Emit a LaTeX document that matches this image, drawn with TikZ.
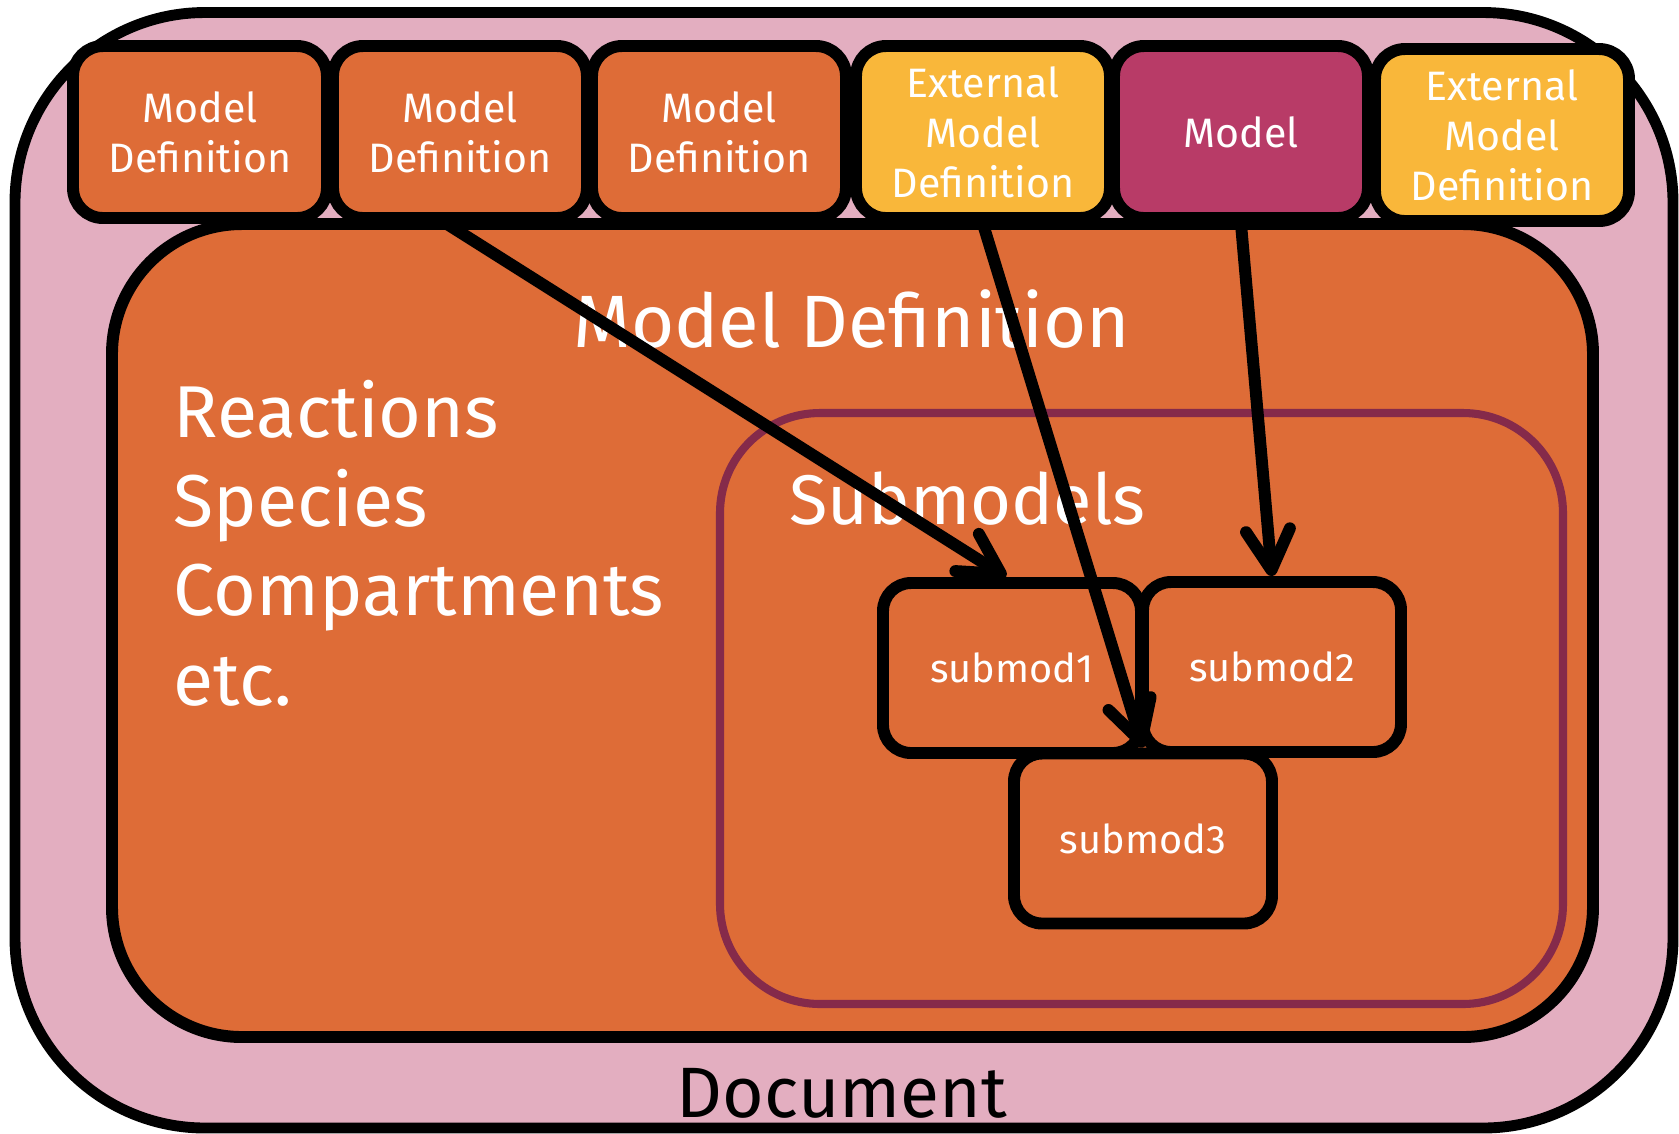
\documentclass[tikz,border=0pt]{standalone}
\usepackage{fontspec}
\setmainfont{Fira Sans}
\usepackage{tikz}
\usetikzlibrary{arrows.meta}
\usepackage{xcolor}

\definecolor{docrose}{HTML}{E3AEC0}
\definecolor{deforange}{HTML}{DE6C37}
\definecolor{extjaune}{HTML}{F9B73A}
\definecolor{modelmagenta}{HTML}{B83B67}
\definecolor{subbord}{HTML}{852A4A}

\tikzset{
  boite/.style={draw=black, line width=3.4pt, rounded corners=0.3cm, minimum width=2.54cm, minimum height=1.72cm, inner sep=0pt, align=center, text=white, font=\fontsize{11.7}{14.2}\selectfont},
  sousmod/.style={boite, fill=deforange, rounded corners=0.28cm, minimum width=2.58cm, minimum height=1.70cm, font=\fontsize{11.3}{13.6}\selectfont},
  grostexte/.style={text=white, inner sep=0pt, font=\fontsize{20.9}{25.4}\selectfont},
  fleche/.style={-{Straight Barb[length=4mm, width=4.4mm, round]}, line width=3.4pt, line cap=round}
}

\begin{document}
\begin{tikzpicture}[x=1cm, y=-1cm]
                \useasboundingbox (0,0) rectangle (16.79,11.33);

                % Document
                \draw[fill=docrose, line width=3.1pt, rounded corners=1.9cm] (0.15,0.125) rectangle (16.73,11.28);
                \node[anchor=base, inner sep=0pt, font=\fontsize{20.3}{24}\selectfont] (document) at (8.42,11.17) {Document};

                % Définition du modèle
                \draw[fill=deforange, line width=3.4pt, rounded corners=1.3cm] (1.12,2.24) rectangle (15.93,10.37);
                \node[grostexte, anchor=base, font=\fontsize{21.1}{25.4}\selectfont] (titredef) at (8.52,3.47) {Model Definition};
                \node[grostexte, anchor=base west, align=left] (contenu) at (1.73,7.05) {Reactions\\Species\\Compartments\\etc.};

                % Sous-modèles
                \draw[subbord, line width=2.3pt, rounded corners=1cm] (7.20,4.13) rectangle (15.63,10.04);
                \node[grostexte, anchor=base, font=\fontsize{20}{24}\selectfont] (titresub) at (9.675,5.24) {Submodels};

                % Boîtes du haut
                \node[boite, fill=deforange] (def1) at (2.00,1.32) {Model\\Definition};
                \node[boite, fill=deforange] (def2) at (4.60,1.32) {Model\\Definition};
                \node[boite, fill=deforange] (def3) at (7.19,1.32) {Model\\Definition};
                \node[boite, fill=extjaune] (ext1) at (9.83,1.32) {External\\Model\\Definition};
                \node[boite, fill=modelmagenta] (model) at (12.41,1.32) {Model};
                \node[boite, fill=extjaune] (ext2) at (15.02,1.35) {External\\Model\\Definition};

                % Boîtes des sous-modèles
                \node[sousmod] (sub1) at (10.12,6.68) {submod1};
                \node[sousmod] (sub2) at (12.72,6.67) {submod2};
                \node[sousmod] (sub3) at (11.43,8.385) {submod3};

                % Flèches
                \draw[fleche] ([xshift=-0.13cm]def2.south) -- ([xshift=-0.06cm]sub1.north);
                \draw[fleche] (ext1.south) -- (sub3.north);
                \draw[fleche] (model.south) -- (sub2.north);

\end{tikzpicture}
\end{document}
